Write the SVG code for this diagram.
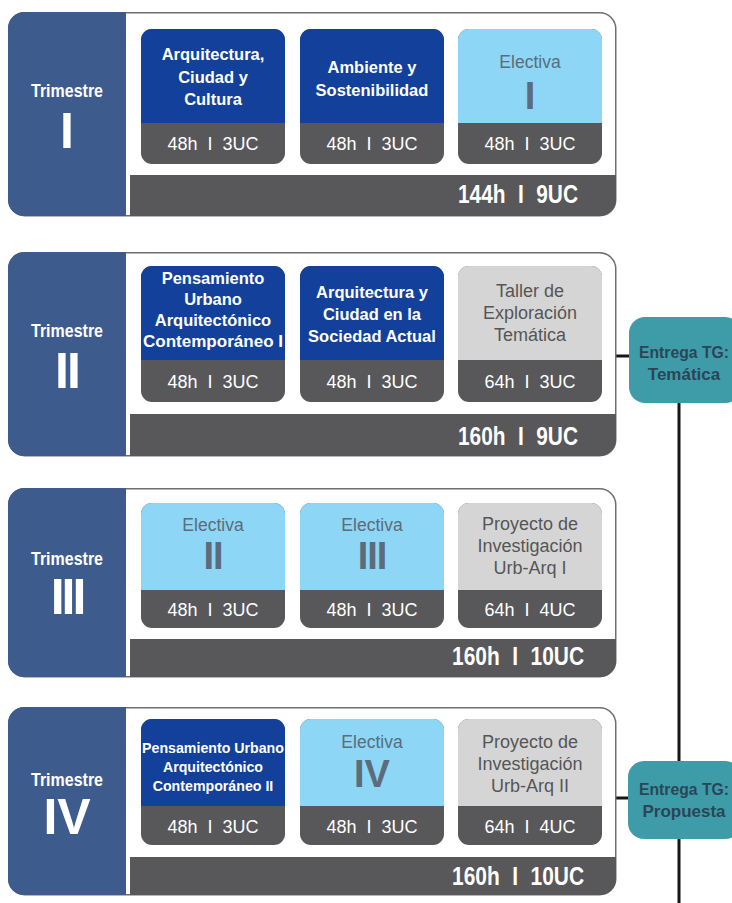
<svg xmlns="http://www.w3.org/2000/svg" width="732" height="903" viewBox="0 0 732 903">
<style>
text{font-family:"Liberation Sans",Arial,sans-serif;text-anchor:middle}
.frame{fill:#fff;stroke:#6f6f6f;stroke-width:1.5}
.panel{fill:#3e5b8d}
.bar{fill:#58585a}
.dk{fill:#12409a}
.lb{fill:#8ed6f5}
.lg{fill:#d5d5d5}
.gr{fill:#58585a}
.tri{fill:#fff;font-size:17.5px;font-weight:bold}
.num{fill:#fff;font-size:50px;font-weight:bold}
.wt{fill:#fff;font-size:16.5px;font-weight:bold}
.wts{fill:#fff;font-size:14.2px;font-weight:bold}
.gt{fill:#555557;font-size:18px}
.et{fill:#5c6c7a;font-size:17.5px}
.en{fill:#5c6c7a;font-size:38px;font-weight:bold}
.ht{fill:#fff;font-size:18px;word-spacing:5px}
.tt{fill:#fff;font-size:25px;font-weight:bold;word-spacing:8px}
.teal{fill:#3d9ca8}
.tl{fill:#2c4556;font-size:17px;font-weight:bold}
.conn{stroke:#161616;stroke-width:3;fill:none}
</style>

<g id="connectors">
<line class="conn" x1="616" y1="356" x2="630" y2="356"/>
<line class="conn" x1="616" y1="798" x2="630" y2="798"/>
<line class="conn" x1="679" y1="400" x2="679" y2="903"/>
</g>

<!-- Trimestre I -->
<g id="trimestre-1">
<rect class="frame" x="8.75" y="12.75" width="607" height="203" rx="16"/>
<path class="panel" d="M126,12 H24 A16,16 0 0 0 8,28 V200 A16,16 0 0 0 24,216 H126 Z"/>
<path class="bar" d="M130,175 H616 V200 A16,16 0 0 1 600,216 H130 Z"/>
<text class="tri" x="67" y="97" textLength="72" lengthAdjust="spacingAndGlyphs">Trimestre</text>
<text class="num" x="67" y="148">I</text>
<text class="tt" x="518" y="203" textLength="120" lengthAdjust="spacingAndGlyphs">144h I 9UC</text>
</g>
<g id="c1-1">
<rect class="gr" x="141" y="29" width="144" height="135" rx="11"/>
<path class="dk" d="M141,123 V40 A11,11 0 0 1 152,29 H274 A11,11 0 0 1 285,40 V123 Z"/>
<text class="wt" x="213" y="60">Arquitectura,</text>
<text class="wt" x="213" y="83">Ciudad y</text>
<text class="wt" x="213" y="105">Cultura</text>
<text class="ht" x="213" y="150">48h I 3UC</text>
</g>
<g id="c1-2">
<rect class="gr" x="300" y="29" width="144" height="135" rx="11"/>
<path class="dk" d="M300,123 V40 A11,11 0 0 1 311,29 H433 A11,11 0 0 1 444,40 V123 Z"/>
<text class="wt" x="372" y="73">Ambiente y</text>
<text class="wt" x="372" y="96">Sostenibilidad</text>
<text class="ht" x="372" y="150">48h I 3UC</text>
</g>
<g id="c1-3">
<rect class="gr" x="458" y="29" width="144" height="135" rx="11"/>
<path class="lb" d="M458,123 V40 A11,11 0 0 1 469,29 H591 A11,11 0 0 1 602,40 V123 Z"/>
<text class="et" x="530" y="68">Electiva</text>
<text class="en" x="530" y="109">I</text>
<text class="ht" x="530" y="150">48h I 3UC</text>
</g>

<!-- Trimestre II -->
<g id="trimestre-2">
<rect class="frame" x="8.75" y="252.75" width="607" height="203" rx="16"/>
<path class="panel" d="M126,252 H24 A16,16 0 0 0 8,268 V440 A16,16 0 0 0 24,456 H126 Z"/>
<path class="bar" d="M130,414 H616 V440 A16,16 0 0 1 600,456 H130 Z"/>
<text class="tri" x="67" y="337" textLength="72" lengthAdjust="spacingAndGlyphs">Trimestre</text>
<text class="num" x="67" y="388" letter-spacing="-2">II</text>
<text class="tt" x="518" y="445" textLength="120" lengthAdjust="spacingAndGlyphs">160h I 9UC</text>
</g>
<g id="c2-1">
<rect class="gr" x="141" y="266" width="144" height="136" rx="11"/>
<path class="dk" d="M141,360 V277 A11,11 0 0 1 152,266 H274 A11,11 0 0 1 285,277 V360 Z"/>
<text class="wt" x="213" y="284">Pensamiento</text>
<text class="wt" x="213" y="305">Urbano</text>
<text class="wt" x="213" y="326">Arquitectónico</text>
<text class="wt" x="213" y="347" textLength="140" lengthAdjust="spacingAndGlyphs">Contemporáneo I</text>
<text class="ht" x="213" y="388">48h I 3UC</text>
</g>
<g id="c2-2">
<rect class="gr" x="300" y="266" width="144" height="136" rx="11"/>
<path class="dk" d="M300,360 V277 A11,11 0 0 1 311,266 H433 A11,11 0 0 1 444,277 V360 Z"/>
<text class="wt" x="372" y="298">Arquitectura y</text>
<text class="wt" x="372" y="320">Ciudad en la</text>
<text class="wt" x="372" y="342">Sociedad Actual</text>
<text class="ht" x="372" y="388">48h I 3UC</text>
</g>
<g id="c2-3">
<rect class="gr" x="458" y="266" width="144" height="136" rx="11"/>
<path class="lg" d="M458,360 V277 A11,11 0 0 1 469,266 H591 A11,11 0 0 1 602,277 V360 Z"/>
<text class="gt" x="530" y="297">Taller de</text>
<text class="gt" x="530" y="319">Exploración</text>
<text class="gt" x="530" y="341">Temática</text>
<text class="ht" x="530" y="388">64h I 3UC</text>
</g>

<!-- Trimestre III -->
<g id="trimestre-3">
<rect class="frame" x="8.75" y="488.75" width="607" height="188" rx="16"/>
<path class="panel" d="M126,488 H24 A16,16 0 0 0 8,504 V661 A16,16 0 0 0 24,677 H126 Z"/>
<path class="bar" d="M130,639 H616 V661 A16,16 0 0 1 600,677 H130 Z"/>
<text class="tri" x="67" y="565" textLength="72" lengthAdjust="spacingAndGlyphs">Trimestre</text>
<text class="num" x="67" y="614" letter-spacing="-3">III</text>
<text class="tt" x="518" y="665" textLength="132" lengthAdjust="spacingAndGlyphs">160h I 10UC</text>
</g>
<g id="c3-1">
<rect class="gr" x="141" y="503" width="144" height="125" rx="11"/>
<path class="lb" d="M141,590 V514 A11,11 0 0 1 152,503 H274 A11,11 0 0 1 285,514 V590 Z"/>
<text class="et" x="213" y="531">Electiva</text>
<text class="en" x="213" y="569" letter-spacing="-1">II</text>
<text class="ht" x="213" y="616">48h I 3UC</text>
</g>
<g id="c3-2">
<rect class="gr" x="300" y="503" width="144" height="125" rx="11"/>
<path class="lb" d="M300,590 V514 A11,11 0 0 1 311,503 H433 A11,11 0 0 1 444,514 V590 Z"/>
<text class="et" x="372" y="531">Electiva</text>
<text class="en" x="372" y="569" letter-spacing="-1">III</text>
<text class="ht" x="372" y="616">48h I 3UC</text>
</g>
<g id="c3-3">
<rect class="gr" x="458" y="503" width="144" height="125" rx="11"/>
<path class="lg" d="M458,590 V514 A11,11 0 0 1 469,503 H591 A11,11 0 0 1 602,514 V590 Z"/>
<text class="gt" x="530" y="530">Proyecto de</text>
<text class="gt" x="530" y="552">Investigación</text>
<text class="gt" x="530" y="574">Urb-Arq I</text>
<text class="ht" x="530" y="616">64h I 4UC</text>
</g>

<!-- Trimestre IV -->
<g id="trimestre-4">
<rect class="frame" x="8.75" y="707.75" width="607" height="187" rx="16"/>
<path class="panel" d="M126,707 H24 A16,16 0 0 0 8,723 V879 A16,16 0 0 0 24,895 H126 Z"/>
<path class="bar" d="M130,857 H616 V879 A16,16 0 0 1 600,895 H130 Z"/>
<text class="tri" x="67" y="786" textLength="72" lengthAdjust="spacingAndGlyphs">Trimestre</text>
<text class="num" x="67" y="834" font-weight="normal">IV</text>
<text class="tt" x="518" y="885" textLength="132" lengthAdjust="spacingAndGlyphs">160h I 10UC</text>
</g>
<g id="c4-1">
<rect class="gr" x="141" y="719" width="144" height="126" rx="11"/>
<path class="dk" d="M141,806 V730 A11,11 0 0 1 152,719 H274 A11,11 0 0 1 285,730 V806 Z"/>
<text class="wts" x="213" y="753">Pensamiento Urbano</text>
<text class="wts" x="213" y="772">Arquitectónico</text>
<text class="wts" x="213" y="791">Contemporáneo II</text>
<text class="ht" x="213" y="833">48h I 3UC</text>
</g>
<g id="c4-2">
<rect class="gr" x="300" y="719" width="144" height="126" rx="11"/>
<path class="lb" d="M300,806 V730 A11,11 0 0 1 311,719 H433 A11,11 0 0 1 444,730 V806 Z"/>
<text class="et" x="372" y="748">Electiva</text>
<text class="en" x="372" y="787" font-weight="normal">IV</text>
<text class="ht" x="372" y="833">48h I 3UC</text>
</g>
<g id="c4-3">
<rect class="gr" x="458" y="719" width="144" height="126" rx="11"/>
<path class="lg" d="M458,806 V730 A11,11 0 0 1 469,719 H591 A11,11 0 0 1 602,730 V806 Z"/>
<text class="gt" x="530" y="748">Proyecto de</text>
<text class="gt" x="530" y="770">Investigación</text>
<text class="gt" x="530" y="792">Urb-Arq II</text>
<text class="ht" x="530" y="833">64h I 4UC</text>
</g>

<!-- Entregas -->
<g id="entrega-tematica">
<rect class="teal" x="629" y="317" width="112" height="86" rx="16"/>
<text class="tl" x="684" y="358" textLength="90" lengthAdjust="spacingAndGlyphs">Entrega TG:</text>
<text class="tl" x="684" y="380">Temática</text>
</g>
<g id="entrega-propuesta">
<rect class="teal" x="628" y="761" width="113" height="78" rx="16"/>
<text class="tl" x="684" y="795" textLength="90" lengthAdjust="spacingAndGlyphs">Entrega TG:</text>
<text class="tl" x="684" y="817">Propuesta</text>
</g>
</svg>
